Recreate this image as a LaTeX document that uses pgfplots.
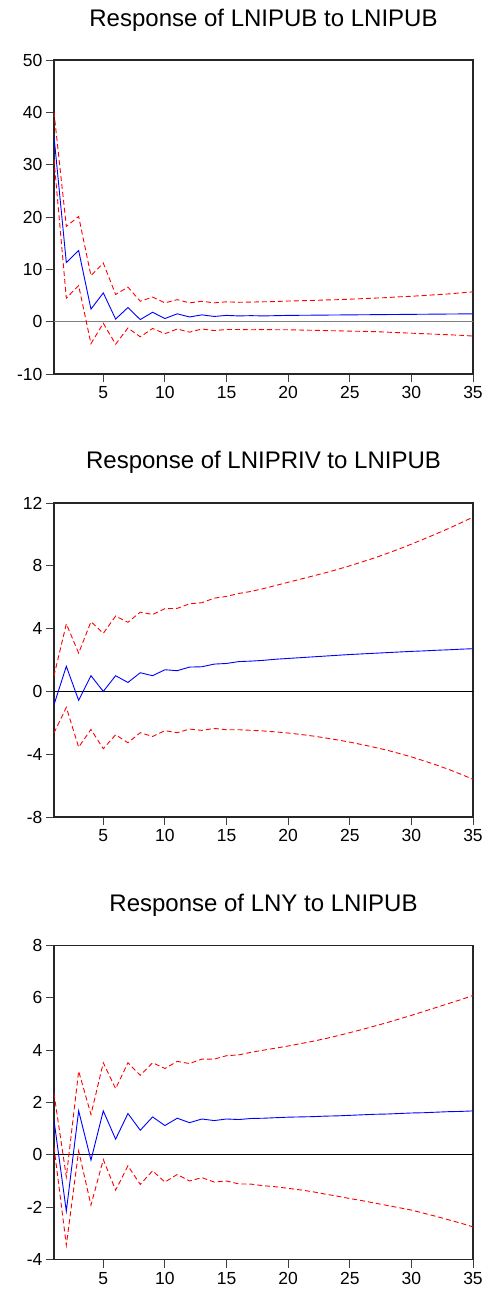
\documentclass[border=0pt]{standalone}
\usepackage{pgfplots}
\usepackage{pgfplotstable}
\pgfplotsset{compat=1.18}
\usepackage{fontspec}
\setmainfont{Liberation Sans}

\pgfplotstableread{
x m u l
1 35.4 40.0 31.0
2 11.3 18.2 4.5
3 13.6 20.1 6.9
4 2.4 8.8 -4.2
5 5.5 11.2 -0.3
6 0.5 5.2 -4.3
7 2.7 6.6 -1.2
8 0.4 3.9 -2.9
9 1.8 4.7 -1.3
10 0.6 3.6 -2.3
11 1.5 4.2 -1.4
12 0.9 3.6 -2.0
13 1.3 3.9 -1.4
14 1.0 3.6 -1.7
15 1.2 3.8 -1.5
16 1.1 3.7 -1.5
17 1.15 3.75 -1.55
18 1.1 3.8 -1.5
19 1.15 3.85 -1.55
20 1.2 3.95 -1.55
21 1.22 4.0 -1.6
22 1.24 4.05 -1.65
23 1.26 4.15 -1.7
24 1.28 4.2 -1.75
25 1.3 4.3 -1.8
26 1.32 4.4 -1.85
27 1.34 4.5 -1.9
28 1.36 4.6 -2.0
29 1.38 4.75 -2.1
30 1.4 4.85 -2.2
31 1.42 5.0 -2.3
32 1.44 5.15 -2.4
33 1.46 5.3 -2.5
34 1.48 5.5 -2.6
35 1.5 5.7 -2.75
}\tabA

\pgfplotstableread{
x m u l
1 -0.85 1.0 -2.65
2 1.6 4.3 -1.02
3 -0.57 2.44 -3.55
4 1.0 4.44 -2.42
5 0.0 3.7 -3.65
6 1.0 4.8 -2.76
7 0.57 4.4 -3.27
8 1.19 5.05 -2.63
9 1.0 4.9 -2.87
10 1.38 5.27 -2.5
11 1.32 5.29 -2.63
12 1.55 5.58 -2.4
13 1.57 5.65 -2.48
14 1.74 5.94 -2.36
15 1.78 6.05 -2.44
16 1.9 6.24 -2.44
17 1.93 6.37 -2.48
18 1.98 6.55 -2.52
19 2.05 6.75 -2.58
20 2.1 6.95 -2.65
21 2.15 7.15 -2.74
22 2.2 7.35 -2.84
23 2.25 7.55 -2.96
24 2.3 7.77 -3.09
25 2.35 8.0 -3.23
26 2.39 8.25 -3.39
27 2.43 8.5 -3.56
28 2.47 8.78 -3.74
29 2.51 9.07 -3.95
30 2.55 9.38 -4.17
31 2.58 9.7 -4.42
32 2.62 10.03 -4.68
33 2.65 10.37 -4.96
34 2.69 10.73 -5.27
35 2.72 11.1 -5.6
}\tabB

\pgfplotstableread{
x m u l
1 1.32 2.34 0.3
2 -2.15 -0.84 -3.45
3 1.68 3.2 0.15
4 -0.2 1.54 -1.92
5 1.68 3.52 -0.18
6 0.6 2.53 -1.35
7 1.58 3.52 -0.42
8 0.94 3.04 -1.13
9 1.45 3.52 -0.61
10 1.12 3.3 -1.04
11 1.4 3.57 -0.75
12 1.23 3.49 -1.0
13 1.37 3.66 -0.87
14 1.31 3.66 -1.04
15 1.37 3.79 -1.0
16 1.35 3.82 -1.11
17 1.39 3.92 -1.12
18 1.40 4.0 -1.18
19 1.42 4.08 -1.22
20 1.44 4.16 -1.28
21 1.45 4.25 -1.34
22 1.46 4.34 -1.41
23 1.48 4.44 -1.5
24 1.49 4.55 -1.58
25 1.51 4.67 -1.67
26 1.53 4.79 -1.75
27 1.55 4.92 -1.84
28 1.56 5.05 -1.93
29 1.58 5.19 -2.02
30 1.6 5.33 -2.11
31 1.61 5.48 -2.23
32 1.63 5.63 -2.35
33 1.65 5.78 -2.48
34 1.66 5.93 -2.61
35 1.68 6.09 -2.75
}\tabC

\pgfplotsset{
  irf/.style={
    scale only axis, width=419pt, height=314pt,
    xmin=1, xmax=35, xtick={5,10,...,35},
    xtick pos=bottom, ytick pos=left, tick align=outside,
    major tick length=8pt,
    tick style={black!75, line width=1pt},
    axis line style={black!85, line width=1.2pt},
    /pgf/number format/assume math mode=true,
    ticklabel style={font=\fontsize{17.5}{21}\selectfont},
    xticklabel style={yshift=-1pt},
    anchor=south west,
  },
  mid/.style={blue, line width=0.9pt},
  band/.style={red, line width=0.9pt, dash pattern=on 5pt off 3pt},
}
\tikzset{ttl/.style={font=\fontsize{24}{27}\selectfont}}

\begin{document}
\begin{tikzpicture}
\path[use as bounding box] (0,0) rectangle (488pt,-1291pt);

\node[ttl] at (263.5pt,-20pt) {Response of LNIPUB to LNIPUB};
\begin{axis}[irf, at={(54pt,-374pt)}, ymin=-10, ymax=50, ytick={-10,0,...,50}]
\addplot[gray, line width=1.1pt] coordinates {(1,0) (35,0)};
\addplot[band] table[x=x,y=u] {\tabA};
\addplot[band] table[x=x,y=l] {\tabA};
\addplot[mid] table[x=x,y=m] {\tabA};
\end{axis}

\node[ttl] at (263.5pt,-462.5pt) {Response of LNIPRIV to LNIPUB};
\begin{axis}[irf, at={(54pt,-817pt)}, ymin=-8, ymax=12, ytick={-8,-4,...,12}]
\addplot[black, line width=0.8pt] coordinates {(1,0) (35,0)};
\addplot[band] table[x=x,y=u] {\tabB};
\addplot[band] table[x=x,y=l] {\tabB};
\addplot[mid] table[x=x,y=m] {\tabB};
\end{axis}

\node[ttl] at (263.5pt,-905pt) {Response of LNY to LNIPUB};
\begin{axis}[irf, at={(54pt,-1259.5pt)}, ymin=-4, ymax=8, ytick={-4,-2,...,8}]
\addplot[black, line width=0.8pt] coordinates {(1,0) (35,0)};
\addplot[band] table[x=x,y=u] {\tabC};
\addplot[band] table[x=x,y=l] {\tabC};
\addplot[mid] table[x=x,y=m] {\tabC};
\end{axis}
\end{tikzpicture}
\end{document}
